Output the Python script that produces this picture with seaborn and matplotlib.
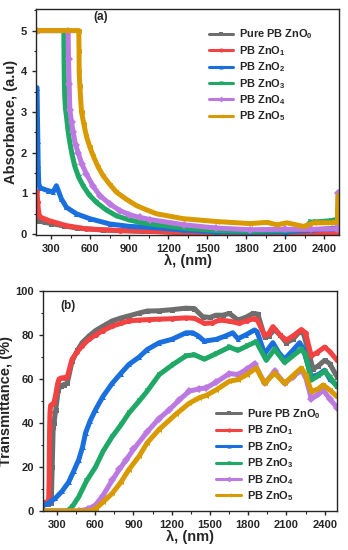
import matplotlib
matplotlib.use("Agg")
import pandas as pd
import matplotlib.pyplot as plt
import seaborn as sns
from matplotlib.ticker import MultipleLocator

# ---- samples ----
labels = ["Pure PB ZnO$_0$", "PB ZnO$_1$", "PB ZnO$_2$", "PB ZnO$_3$", "PB ZnO$_4$", "PB ZnO$_5$"]
colors = ["#6e6e6e", "#f24242", "#1a6fdf", "#1fa866", "#bd79e2", "#d99a00"]
markers = ["s", "o", "^", "v", "D", "<"]

# ---- (a) absorbance ----
abs_wl0 = [190, 200, 250, 300, 400, 500, 700, 1000, 1500, 2000, 2300, 2450, 2505]
abs_0 = [0.36, 0.33, 0.29, 0.26, 0.20, 0.15, 0.10, 0.07, 0.05, 0.07, 0.11, 0.13, 0.16]

abs_wl1 = [190, 195, 200, 206, 215, 246, 285, 339, 416, 570, 827, 1060, 1320, 1570, 1830, 2100, 2300, 2505]
abs_1 = [1.05, 0.80, 0.60, 0.46, 0.42, 0.38, 0.33, 0.28, 0.21, 0.13, 0.09, 0.07, 0.03, 0.01, 0.01, 0.02, 0.03, 0.04]

abs_wl2 = [190, 193, 196, 199, 203, 210, 221, 273, 314, 339, 377, 416, 493, 596, 750, 904,
           1060, 1320, 1570, 1830, 2100, 2300, 2450, 2500, 2505]
abs_2 = [3.6, 2.9, 2.3, 1.7, 1.25, 1.15, 1.13, 1.07, 1.04, 1.19, 0.87, 0.66, 0.50, 0.38, 0.25, 0.19,
         0.17, 0.10, 0.06, 0.05, 0.06, 0.10, 0.13, 0.15, 0.50]

abs_wl3 = [190, 396, 398, 400, 403, 408, 416, 428, 442, 460, 480, 510, 544, 590, 647, 720, 801, 900,
           981, 1060, 1320, 1570, 1830, 2100, 2240, 2290, 2330, 2450, 2500, 2505]
abs_3 = [5.0, 5.0, 4.2, 3.72, 3.39, 3.1, 2.9, 2.55, 2.25, 1.95, 1.67, 1.40, 1.19, 0.97, 0.78, 0.60, 0.45, 0.35,
         0.29, 0.25, 0.15, 0.09, 0.07, 0.09, 0.12, 0.29, 0.30, 0.33, 0.37, 0.60]

abs_wl4 = [190, 429, 432, 437, 442, 455, 468, 486, 506, 535, 570, 620, 673, 750, 827, 900, 981,
           1060, 1320, 1570, 1830, 2100, 2300, 2500, 2505]
abs_4 = [5.0, 5.0, 4.3, 3.7, 3.06, 2.75, 2.5, 2.2, 2.0, 1.72, 1.48, 1.18, 0.95, 0.74, 0.58, 0.48, 0.41,
         0.36, 0.23, 0.15, 0.11, 0.12, 0.12, 0.13, 1.0]

abs_wl5 = [190, 511, 513, 514, 519, 532, 550, 570, 595, 622, 660, 699, 750, 801, 880, 956, 1030, 1110,
           1316, 1572, 1829, 1958, 2035, 2112, 2240, 2317, 2446, 2500, 2505]
abs_5 = [5.0, 5.0, 4.5, 4.0, 3.64, 3.0, 2.7, 2.4, 2.15, 1.92, 1.65, 1.43, 1.22, 1.03, 0.85, 0.70, 0.60, 0.50,
         0.38, 0.31, 0.26, 0.29, 0.23, 0.28, 0.19, 0.28, 0.28, 0.29, 0.95]

# ---- (b) transmittance ----
tr_wl0 = [190, 230, 255, 262, 270, 276, 290, 310, 330, 355, 380, 418, 460, 497, 550, 602, 660, 733, 800,
          864, 945, 1008, 1100, 1200, 1312, 1378, 1443, 1500, 1548, 1600, 1653, 1719, 1780, 1837, 1876,
          1929, 1960, 2007, 2050, 2099, 2150, 2204, 2235, 2270, 2309, 2350, 2400, 2440, 2497]
tr_0 = [3, 3, 3.5, 20, 38, 40, 46, 55, 57, 57.5, 58, 68, 73, 76.5, 79.5, 82, 84, 86.4, 87.7,
        88.7, 90, 90.9, 91, 91.5, 92.2, 92, 88.3, 88, 89, 89, 89.8, 86.8, 88, 89.8, 89.5,
        79.2, 79.5, 82.5, 80, 76.5, 78, 81.5, 80.5, 73, 64.5, 66, 68.5, 67, 61]

tr_wl1 = [190, 230, 235, 238, 240, 242, 245, 250, 262, 276, 290, 305, 316, 335, 355, 381, 418, 460, 497,
          550, 602, 660, 733, 800, 864, 945, 1021, 1100, 1200, 1312, 1378, 1456, 1520, 1574, 1653, 1730,
          1790, 1848, 1870, 1928, 1960, 1994, 2050, 2099, 2150, 2217, 2250, 2295, 2340, 2400, 2440, 2497]
tr_1 = [4, 4, 6, 15, 28, 38, 45, 48, 48.5, 49, 53, 58, 60, 60.5, 60.6, 61, 69, 72.5, 75,
        78, 80, 82, 84, 85.3, 86.4, 86.8, 87, 87.2, 87.4, 87.8, 87.6, 85.3, 85.5, 86.8, 86.3, 85.3,
        86.5, 87.5, 87, 80, 80.5, 83.8, 80, 77.7, 79.5, 82.5, 81, 70.5, 72, 74.5, 72.5, 68.5]

tr_wl2 = [190, 230, 287, 340, 392, 430, 471, 500, 524, 560, 602, 660, 733, 800, 864, 945, 1008, 1102,
          1200, 1312, 1365, 1410, 1456, 1548, 1620, 1679, 1719, 1780, 1850, 1870, 1929, 1994, 2040,
          2086, 2150, 2204, 2230, 2296, 2350, 2400, 2440, 2497]
tr_2 = [2.5, 3.5, 5.8, 9, 13.2, 18, 23.4, 29, 35.5, 41, 46, 52, 58, 62.5, 66.6, 70, 73.4, 76.5,
        78, 81, 81, 79.5, 77.2, 78, 79.5, 81, 78.3, 80, 82.3, 81.5, 71.5, 76.5, 72,
        69, 73, 76.5, 74, 61, 62, 64, 60, 57]

tr_wl3 = [190, 381, 420, 471, 530, 602, 660, 733, 800, 864, 945, 1008, 1102, 1207, 1312, 1378, 1456,
          1548, 1653, 1719, 1790, 1863, 1942, 2007, 2086, 2150, 2217, 2250, 2296, 2350, 2401, 2440, 2497]
tr_3 = [0, 0, 2, 6.5, 13.5, 20, 27, 33.8, 39, 44.5, 50, 54.5, 62, 66.5, 70.5, 71, 69,
        71.5, 74.5, 73, 75, 77, 68.5, 73.5, 67.5, 70.5, 73.5, 71, 59.5, 61.5, 63.5, 61, 56.5]

tr_wl4 = [190, 470, 540, 602, 660, 733, 790, 840, 900, 1008, 1100, 1181, 1260, 1338, 1417, 1470, 1548,
          1653, 1719, 1790, 1850, 1929, 2007, 2086, 2150, 2217, 2250, 2296, 2350, 2388, 2440, 2497]
tr_4 = [0, 0, 0.8, 2.7, 7, 14, 19, 23, 28, 36, 42, 46, 50.5, 54.5, 55.5, 56, 58.5,
        62.5, 62, 64.5, 67, 58, 63.5, 58, 61, 64, 61, 51, 53, 55, 51, 47]

tr_wl5 = [190, 560, 602, 660, 733, 800, 864, 945, 1008, 1100, 1233, 1338, 1417, 1470, 1548, 1653, 1719,
          1790, 1863, 1929, 2007, 2086, 2150, 2217, 2250, 2296, 2350, 2388, 2440, 2497]
tr_5 = [0, 0, 1, 4, 8, 13, 18.8, 25, 31, 37, 44, 49, 51.5, 52.5, 55, 59, 59.7,
        62, 65, 58, 62.7, 58, 61.5, 65, 62, 54.3, 55.5, 57.3, 55, 52]

xticks = [300, 600, 900, 1200, 1500, 1800, 2100, 2400]


def long_frame(wls, vals):
    parts = []
    for lab, x, y in zip(labels, wls, vals):
        parts.append(pd.DataFrame({"wl": x, "val": y, "sample": lab}))
    return pd.concat(parts, ignore_index=True)


sns.set_style("ticks")
plt.rcParams["font.family"] = ["Liberation Sans", "DejaVu Sans"]
plt.rcParams["font.weight"] = "bold"
plt.rcParams["mathtext.fontset"] = "custom"
plt.rcParams["mathtext.rm"] = "Liberation Sans:bold"
plt.rcParams["mathtext.bf"] = "Liberation Sans:bold"
plt.rcParams["mathtext.default"] = "bf"
plt.rcParams["axes.linewidth"] = 1.0


def draw_panel(ax, df, ylabel, tag, tag_xy, leg_xy):
    sns.lineplot(data=df, x="wl", y="val", hue="sample", style="sample",
                 palette=colors, markers=markers, dashes=False, estimator=None, sort=False,
                 linewidth=3.6, markersize=3.6, markeredgewidth=0, ax=ax)
    ax.set_xticks(xticks)
    ax.xaxis.set_minor_locator(MultipleLocator(150))
    ax.tick_params(axis="both", which="major", length=3, width=1, labelsize=8)
    ax.tick_params(axis="both", which="minor", length=1.8, width=0.8)
    for lab in ax.get_xticklabels() + ax.get_yticklabels():
        lab.set_fontweight("bold")
    ax.set_xlabel("λ, (nm)", fontsize=10.5, fontweight="bold", labelpad=0)
    ax.set_ylabel(ylabel, fontsize=10.5, fontweight="bold", labelpad=2)
    ax.text(tag_xy[0], tag_xy[1], tag, transform=ax.transAxes, ha="center", va="center",
            fontsize=8.5, fontweight="bold")
    handles, labs = ax.get_legend_handles_labels()
    leg = ax.legend(handles, labs, frameon=False, loc="upper left", bbox_to_anchor=leg_xy,
                    fontsize=7.9, handlelength=2.2, handletextpad=0.55, labelspacing=0.24,
                    borderaxespad=0, borderpad=0)
    for line in leg.get_lines():
        line.set_linewidth(2.2)
        line.set_markersize(3)


fig = plt.figure(figsize=(3.48, 5.5), dpi=100)
ax_a = fig.add_axes([36 / 348, 1 - 235 / 550, 303 / 348, 226 / 550])
ax_b = fig.add_axes([43 / 348, 1 - 511 / 550, 294 / 348, 220 / 550])

df_a = long_frame([abs_wl0, abs_wl1, abs_wl2, abs_wl3, abs_wl4, abs_wl5],
                  [abs_0, abs_1, abs_2, abs_3, abs_4, abs_5])
draw_panel(ax_a, df_a, "Absorbance, (a.u)", "(a)", (0.215, 0.963), (0.57, 0.918))
ax_a.set_xlim(182, 2512)
ax_a.set_ylim(-0.02, 5.53)
ax_a.yaxis.set_major_locator(MultipleLocator(1))
ax_a.yaxis.set_minor_locator(MultipleLocator(0.5))

df_b = long_frame([tr_wl0, tr_wl1, tr_wl2, tr_wl3, tr_wl4, tr_wl5],
                  [tr_0, tr_1, tr_2, tr_3, tr_4, tr_5])
draw_panel(ax_b, df_b, "Transmittance, (%)", "(b)", (0.086, 0.93), (0.59, 0.472))
ax_b.set_xlim(190, 2497)
ax_b.set_ylim(0, 100)
ax_b.yaxis.set_major_locator(MultipleLocator(20))
ax_b.yaxis.set_minor_locator(MultipleLocator(10))

fig.savefig("out.png", dpi=100)
